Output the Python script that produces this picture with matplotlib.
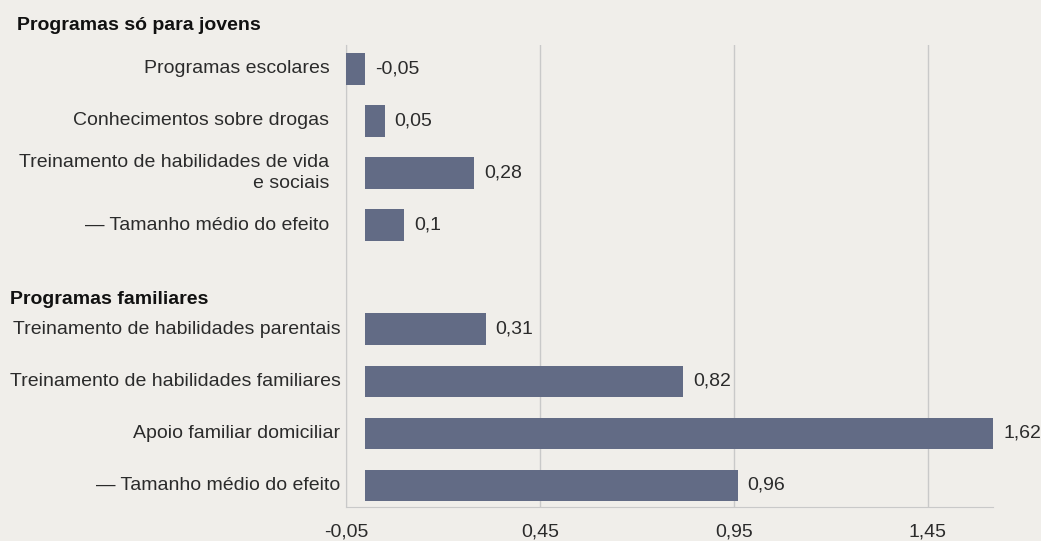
import matplotlib.pyplot as plt
from matplotlib.transforms import blended_transform_factory, offset_copy

plt.rcParams["font.family"] = ["Liberation Sans", "DejaVu Sans"]

# ---------------------------------------------------------------------------
# DATA
# ---------------------------------------------------------------------------
youth_labels = [
    "Programas escolares",
    "Conhecimentos sobre drogas",
    "Treinamento de habilidades de vida\ne sociais",
    "\u2014 Tamanho médio do efeito",
]
youth_values = [-0.05, 0.05, 0.28, 0.10]
youth_text = ["-0,05", "0,05", "0,28", "0,1"]

family_labels = [
    "Treinamento de habilidades parentais",
    "Treinamento de habilidades familiares",
    "Apoio familiar domiciliar",
    "\u2014 Tamanho médio do efeito",
]
family_values = [0.31, 0.82, 1.62, 0.96]
family_text = ["0,31", "0,82", "1,62", "0,96"]

group_titles = ["Programas só para jovens", "Programas familiares"]
x_ticks = [-0.05, 0.45, 0.95, 1.45]
x_tick_labels = ["-0,05", "0,45", "0,95", "1,45"]

# ---------------------------------------------------------------------------
# STYLE
# ---------------------------------------------------------------------------
BG = "#f0eeea"
BAR = "#626b85"
GRID = "#c9c9c9"
TXT = "#2b2b2b"

fig = plt.figure(figsize=(10.41, 5.41), dpi=100, facecolor=BG)
ax = fig.add_axes([0.3324, 0.0628, 0.9539 - 0.3324, 0.9168 - 0.0628])
ax.set_facecolor(BG)

# slots: youth group 0..3, one empty slot, family group 5..8
youth_pos = list(range(len(youth_values)))
family_pos = [p + len(youth_values) + 1 for p in range(len(family_values))]

ax.barh(youth_pos, youth_values, height=0.6, color=BAR, zorder=3)
ax.barh(family_pos, family_values, height=0.6, color=BAR, zorder=3)

ax.set_xlim(-0.05, 1.618)
ax.set_ylim(8.42, -0.46)

ax.set_xticks(x_ticks)
ax.set_xticklabels(x_tick_labels, fontsize=14, color=TXT)
ax.tick_params(axis="x", length=0, pad=12)
ax.set_yticks([])
ax.grid(axis="x", color=GRID, linewidth=1, zorder=0)

for side in ["top", "right"]:
    ax.spines[side].set_visible(False)
ax.spines["left"].set_color(GRID)
ax.spines["bottom"].set_color(GRID)

# value labels
for pos, val, txt in zip(youth_pos + family_pos, youth_values + family_values,
                         youth_text + family_text):
    tr = offset_copy(ax.transData, fig=fig, x=7, y=0, units="points")
    ax.text(max(val, 0), pos, txt, transform=tr, ha="left", va="center",
            fontsize=14, color=TXT, zorder=4)

# category labels
blend = blended_transform_factory(ax.transAxes, ax.transData)
tr_youth = offset_copy(blend, fig=fig, x=-12, y=0, units="points")
tr_family = offset_copy(blend, fig=fig, x=-4, y=0, units="points")
for pos, lab in zip(youth_pos, youth_labels):
    ax.text(0, pos, lab, transform=tr_youth, ha="right", va="center",
            fontsize=14, color=TXT, linespacing=1.3)
for pos, lab in zip(family_pos, family_labels):
    ax.text(0, pos, lab, transform=tr_family, ha="right", va="center",
            fontsize=14, color=TXT)

# group headings
fig.text(17 / 1041, 1 - 25 / 541, group_titles[0], ha="left", va="center",
         fontsize=14, fontweight="bold", color="#111111")
fig.text(10 / 1041, 1 - 300 / 541, group_titles[1], ha="left", va="center",
         fontsize=14, fontweight="bold", color="#111111")

fig.savefig("out.png", dpi=100, facecolor=BG)
